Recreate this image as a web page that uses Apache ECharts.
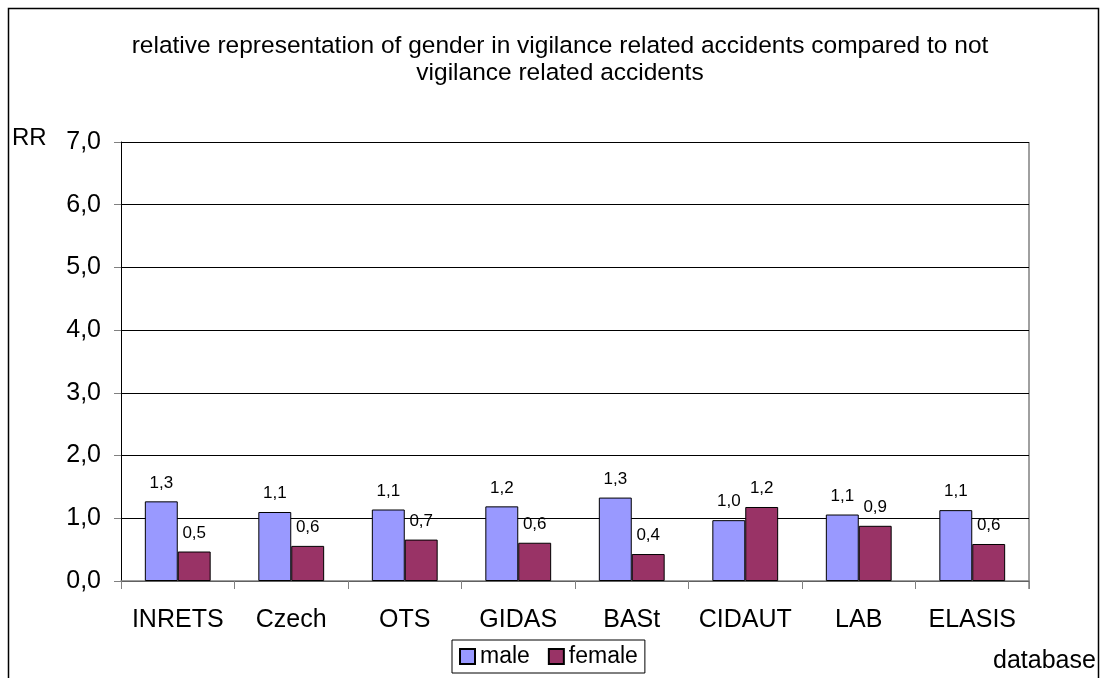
<!DOCTYPE html>
<html>
<head>
<meta charset="utf-8">
<script src="https://cdn.jsdelivr.net/npm/echarts@6/dist/echarts.min.js"></script>
<style>
  html, body { margin: 0; padding: 0; background: #fff; }
  #chart { width: 1101px; height: 678px; }
</style>
</head>
<body>
<div id="chart"></div>
<script>
// data
var databases = ['INRETS', 'Czech', 'OTS', 'GIDAS', 'BASt', 'CIDAUT', 'LAB', 'ELASIS'];
var male = [1.27, 1.10, 1.14, 1.19, 1.33, 0.97, 1.06, 1.13];
var female = [0.47, 0.56, 0.66, 0.61, 0.43, 1.18, 0.88, 0.59];
var yTicks = [0, 1, 2, 3, 4, 5, 6, 7];

function comma(v) {
  return v.toFixed(1).replace('.', ',');
}

var myChart = echarts.init(document.getElementById('chart'));
var font = 'Liberation Sans, Arial, sans-serif';

var barLabel = {
  show: true,
  position: 'top',
  distance: 10,
  color: '#000',
  fontFamily: font,
  fontSize: 17,
  formatter: function (p) { return comma(p.value); }
};

myChart.setOption({
  animation: false,
  textStyle: { fontFamily: font },
  title: {
    text: 'relative representation of gender in vigilance related accidents compared to not\nvigilance related accidents',
    left: 560,
    top: 33,
    textAlign: 'center',
    padding: 0,
    textStyle: { fontSize: 24.5, fontWeight: 'normal', color: '#000', lineHeight: 27, fontFamily: font }
  },
  legend: {
    data: ['male', 'female'],
    icon: 'rect',
    left: 452,
    top: 640,
    itemWidth: 15,
    itemHeight: 15,
    itemGap: 18,
    padding: [5, 7, 5, 7],
    borderColor: '#000',
    borderWidth: 1,
    textStyle: { fontSize: 23, color: '#000', fontFamily: font }
  },
  grid: { left: 121, right: 72, top: 142, bottom: 97 },
  xAxis: {
    type: 'category',
    data: databases,
    axisLine: { lineStyle: { color: '#808080', width: 1.5 } },
    axisTick: { show: true, interval: 0, length: 8, lineStyle: { color: '#808080' } },
    axisLabel: { interval: 0, hideOverlap: false, color: '#000', fontSize: 25, margin: 27, fontFamily: font },
    name: 'database',
    nameLocation: 'end',
    nameGap: 0,
    nameTextStyle: { fontSize: 25, color: '#000', align: 'left', verticalAlign: 'top', padding: [68, 0, 0, -36] }
  },
  yAxis: {
    type: 'value',
    min: yTicks[0],
    max: yTicks[yTicks.length - 1],
    interval: 1,
    axisLine: { show: true, lineStyle: { color: '#000', width: 1 } },
    axisTick: { show: true, length: 7, lineStyle: { color: '#808080' } },
    axisLabel: { color: '#000', fontSize: 25, margin: 20, fontFamily: font, formatter: function (v) { return comma(v); } },
    splitLine: { lineStyle: { color: '#000', width: 1 } },
    name: 'RR',
    nameLocation: 'end',
    nameGap: 0,
    nameTextStyle: { fontSize: 24, color: '#000', align: 'left', verticalAlign: 'bottom', padding: [0, 0, -8, -109] }
  },
  series: [
    {
      name: 'male',
      type: 'bar',
      data: male,
      barGap: '0%',
      barCategoryGap: '42%',
      itemStyle: { color: '#9999ff', borderColor: '#000', borderWidth: 1 },
      label: barLabel
    },
    {
      name: 'female',
      type: 'bar',
      data: female,
      itemStyle: { color: '#993366', borderColor: '#000', borderWidth: 1 },
      label: barLabel
    }
  ],
  graphic: [
    {
      type: 'rect',
      shape: { x: 8.5, y: 8.5, width: 1090, height: 700 },
      style: { fill: null, stroke: '#000', lineWidth: 1.5 },
      silent: true
    },
    {
      type: 'line',
      shape: { x1: 1029, y1: 142, x2: 1029, y2: 589 },
      style: { stroke: '#808080', lineWidth: 1.5 },
      silent: true
    }
  ]
});
</script>
</body>
</html>
